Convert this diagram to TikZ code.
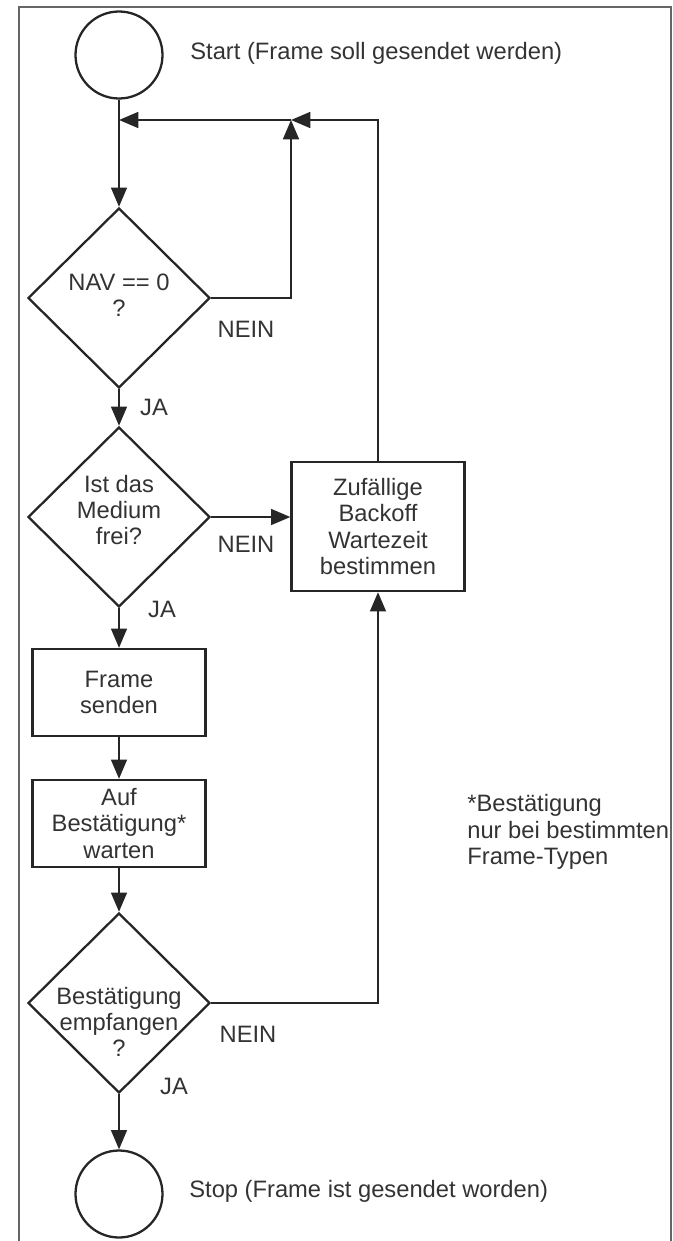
\documentclass[tikz,border=0pt]{standalone}
\usepackage{fontspec}
\setmainfont{Liberation Sans}
\usetikzlibrary{shapes.geometric,arrows.meta}

\tikzset{
  schrift/.style={font=\fontsize{13.5pt}{15pt}\selectfont,text=black!80},
  kreis/.style={draw=black!85,circle,line width=1.3pt,minimum size=1.74cm,inner sep=0pt},
  kasten/.style={draw=black!85,rectangle,line width=1.3pt,minimum width=3.46cm,minimum height=1.74cm,align=center,schrift},
  raute/.style={draw=black!85,diamond,line width=1.3pt,minimum width=3.64cm,minimum height=3.6cm,inner sep=0pt},
  marke/.style={schrift,inner sep=0pt},
  pfeil/.style={draw=black!85,line width=1.3pt,-{Triangle[length=11pt,width=9pt]}}
}

\begin{document}
\begin{tikzpicture}
    \useasboundingbox (0,0) rectangle (13.44,-24.82);
    \draw[line width=0.7pt,black!60] (0.38,-24.82) -- (0.38,-0.14) -- (13.42,-0.14) -- (13.42,-24.82);

    \node[kreis] (start) at (2.38,-1.1) {};
    \node[marke,anchor=west] (starttext) at (3.8,-1.06) {Start (Frame soll gesendet werden)};

    \node[raute] (nav) at (2.38,-5.96) {};
    \node[marke,align=center] (navtext) at (2.38,-5.9) {NAV == 0\\?};
    \node[raute] (medium) at (2.38,-10.34) {};
    \node[marke,align=center] (mediumtext) at (2.38,-10.2) {Ist das\\Medium\\frei?};
    \node[kasten,minimum height=2.58cm] (backoff) at (7.56,-10.53) {Zufällige\\Backoff\\Wartezeit\\bestimmen};
    \node[kasten] (senden) at (2.38,-13.85) {Frame\\senden};
    \node[kasten] (warten) at (2.38,-16.47) {Auf\\Bestätigung*\\warten};
    \node[raute] (empfangen) at (2.38,-20.06) {};
    \node[marke,align=center] (empfangentext) at (2.38,-20.44) {Bestätigung\\empfangen\\?};

    \node[kreis] (stop) at (2.38,-23.88) {};
    \node[marke,anchor=west] (stoptext) at (3.78,-23.82) {Stop (Frame ist gesendet worden)};

    \node[marke,anchor=west,align=left] (fussnote) at (9.34,-16.64) {*Bestätigung\\nur bei bestimmten\\Frame-Typen};

    \node[marke] (nein1) at (4.92,-6.58) {NEIN};
    \node[marke] (ja1) at (3.08,-8.14) {JA};
    \node[marke] (nein2) at (4.92,-10.88) {NEIN};
    \node[marke] (ja2) at (3.24,-12.18) {JA};
    \node[marke] (nein3) at (4.96,-20.68) {NEIN};
    \node[marke] (ja3) at (3.48,-21.72) {JA};

    \coordinate (rueck) at (5.82,-2.4);
    \coordinate (knoten) at (2.38,-2.4);

    \draw[pfeil] (start) -- (nav);
    \draw[pfeil] (rueck) -- (knoten);
    \draw[pfeil] (nav.east) -| (rueck);
    \draw[pfeil] (backoff.north) |- (rueck);
    \draw[pfeil] (nav) -- (medium);
    \draw[pfeil] (medium.east) -- (medium.east -| backoff.west);
    \draw[pfeil] (medium) -- (senden);
    \draw[pfeil] (senden) -- (warten);
    \draw[pfeil] (warten) -- (empfangen);
    \draw[pfeil] (empfangen.east) -| (backoff.south);
    \draw[pfeil] (empfangen) -- (stop);
\end{tikzpicture}
\end{document}
